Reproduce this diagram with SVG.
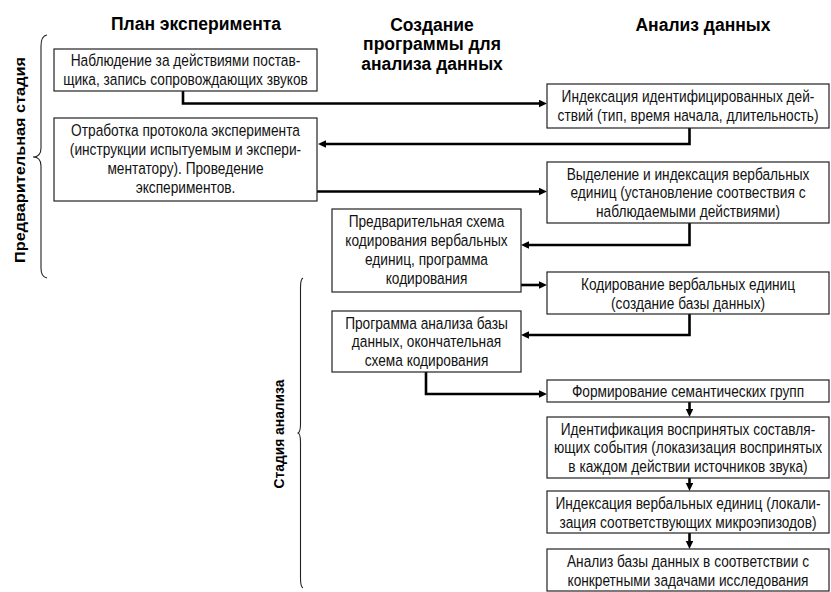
<svg xmlns="http://www.w3.org/2000/svg" width="831" height="592" viewBox="0 0 831 592">
<defs>
<style>
.bg{fill:#fff}
.box{fill:#fff;stroke:#222;stroke-width:1.2}
.t{font-family:"Liberation Sans",Arial,sans-serif;font-size:16.5px;fill:#111;text-anchor:middle}
.h{font-family:"Liberation Sans",Arial,sans-serif;font-size:17.5px;font-weight:bold;fill:#000;text-anchor:middle}
.v{font-family:"Liberation Sans",Arial,sans-serif;font-size:15px;font-weight:bold;fill:#000;text-anchor:middle}
.c{fill:none;stroke:#000;stroke-width:2.6;stroke-linejoin:miter}
.br{fill:none;stroke:#222;stroke-width:1.1}
</style>
<marker id="ah" markerWidth="9" markerHeight="8" refX="1" refY="3.75" orient="auto" markerUnits="userSpaceOnUse">
<path d="M0,0 L8,3.75 L0,7.5 z" fill="#000"/>
</marker>
</defs>
<rect class="bg" x="0" y="0" width="831" height="592"/>

<g id="headers">
<text class="h" x="196" y="30">План эксперимента</text>
<text class="h" x="432" y="30.5">Создание</text>
<text class="h" x="432" y="50">программы для</text>
<text class="h" x="432" y="69.5">анализа данных</text>
<text class="h" x="703" y="30.5">Анализ данных</text>
</g>

<g id="stages">
<path class="br" d="M47,35 Q41,36 41,46 L41,148 Q41,157 33,157 Q41,157 41,166 L41,268 Q41,277 47,278"/>
<text class="v" transform="translate(25,160) rotate(-90)" x="0" y="0" textLength="206" lengthAdjust="spacingAndGlyphs">Предварительная стадия</text>
<path class="br" d="M303,278 Q300.5,279 300.5,288 L300.5,424 Q300.5,433 297.5,433 Q300.5,433 300.5,442 L300.5,578 Q300.5,587 303,588"/>
<text class="v" transform="translate(284,434) rotate(-90)" x="0" y="0" textLength="109" lengthAdjust="spacingAndGlyphs">Стадия анализа</text>
</g>

<g id="connectors">
<path class="c" d="M183,91 V103.5 H540" marker-end="url(#ah)"/>
<path class="c" d="M689.5,128 V144 H325" marker-end="url(#ah)"/>
<path class="c" d="M317,191.5 H540" marker-end="url(#ah)"/>
<path class="c" d="M689.5,223 V245 H528" marker-end="url(#ah)"/>
<path class="c" d="M521,285 H540" marker-end="url(#ah)"/>
<path class="c" d="M689.5,314 V335 H528" marker-end="url(#ah)"/>
<path class="c" d="M426,372 V394 H540" marker-end="url(#ah)"/>
<path class="c" d="M689.5,402 V410" marker-end="url(#ah)"/>
<path class="c" d="M689.5,478 V484" marker-end="url(#ah)"/>
<path class="c" d="M689.5,533 V542" marker-end="url(#ah)"/>
</g>

<g id="n1">
<rect class="box" x="54" y="49" width="263" height="42"/>
<g transform="translate(185.5,0) scale(0.83,1)">
<text class="t" x="0" y="66">Наблюдение за действиями постав-</text>
<text class="t" x="0" y="85">щика, запись сопровождающих звуков</text>
</g>
</g>

<g id="n2">
<rect class="box" x="54" y="118" width="263" height="83"/>
<g transform="translate(185.5,0) scale(0.83,1)">
<text class="t" x="0" y="136">Отработка протокола эксперимента</text>
<text class="t" x="0" y="155">(инструкции испытуемым и экспери-</text>
<text class="t" x="0" y="174">ментатору). Проведение</text>
<text class="t" x="0" y="193">экспериментов.</text>
</g>
</g>

<g id="n3">
<rect class="box" x="547" y="84" width="282" height="44"/>
<g transform="translate(688,0) scale(0.83,1)">
<text class="t" x="0" y="102.5">Индексация идентифицированных дей-</text>
<text class="t" x="0" y="121.5">ствий (тип, время начала, длительность)</text>
</g>
</g>

<g id="n4">
<rect class="box" x="547" y="162" width="282" height="61"/>
<g transform="translate(688,0) scale(0.83,1)">
<text class="t" x="0" y="180">Выделение и индексация вербальных</text>
<text class="t" x="0" y="198.5">единиц (установление соотвествия с</text>
<text class="t" x="0" y="217">наблюдаемыми действиями)</text>
</g>
</g>

<g id="n5">
<rect class="box" x="332" y="209" width="189" height="83"/>
<g transform="translate(426.5,0) scale(0.83,1)">
<text class="t" x="0" y="227">Предварительная схема</text>
<text class="t" x="0" y="246">кодирования вербальных</text>
<text class="t" x="0" y="265">единиц, программа</text>
<text class="t" x="0" y="284">кодирования</text>
</g>
</g>

<g id="n6">
<rect class="box" x="547" y="272" width="282" height="42"/>
<g transform="translate(688,0) scale(0.83,1)">
<text class="t" x="0" y="290">Кодирование вербальных единиц</text>
<text class="t" x="0" y="309">(создание базы данных)</text>
</g>
</g>

<g id="n7">
<rect class="box" x="332" y="311" width="189" height="61"/>
<g transform="translate(426.5,0) scale(0.83,1)">
<text class="t" x="0" y="329">Программа анализа базы</text>
<text class="t" x="0" y="347.5">данных, окончательная</text>
<text class="t" x="0" y="366">схема кодирования</text>
</g>
</g>

<g id="n8">
<rect class="box" x="547" y="380" width="282" height="22"/>
<g transform="translate(688,0) scale(0.83,1)">
<text class="t" x="0" y="397">Формирование семантических групп</text>
</g>
</g>

<g id="n9">
<rect class="box" x="547" y="417" width="282" height="61"/>
<g transform="translate(688,0) scale(0.83,1)">
<text class="t" x="0" y="435">Идентификация воспринятых составля-</text>
<text class="t" x="0" y="453.5">ющих события (локазизация воспринятых</text>
<text class="t" x="0" y="472">в каждом действии источников звука)</text>
</g>
</g>

<g id="n10">
<rect class="box" x="547" y="491" width="282" height="42"/>
<g transform="translate(688,0) scale(0.83,1)">
<text class="t" x="0" y="509">Индексация вербальных единиц (локали-</text>
<text class="t" x="0" y="528">зация соответствующих микроэпизодов)</text>
</g>
</g>

<g id="n11">
<rect class="box" x="547" y="549" width="282" height="42"/>
<g transform="translate(688,0) scale(0.83,1)">
<text class="t" x="0" y="567">Анализ базы данных в соответствии с</text>
<text class="t" x="0" y="586">конкретными задачами исследования</text>
</g>
</g>
</svg>
